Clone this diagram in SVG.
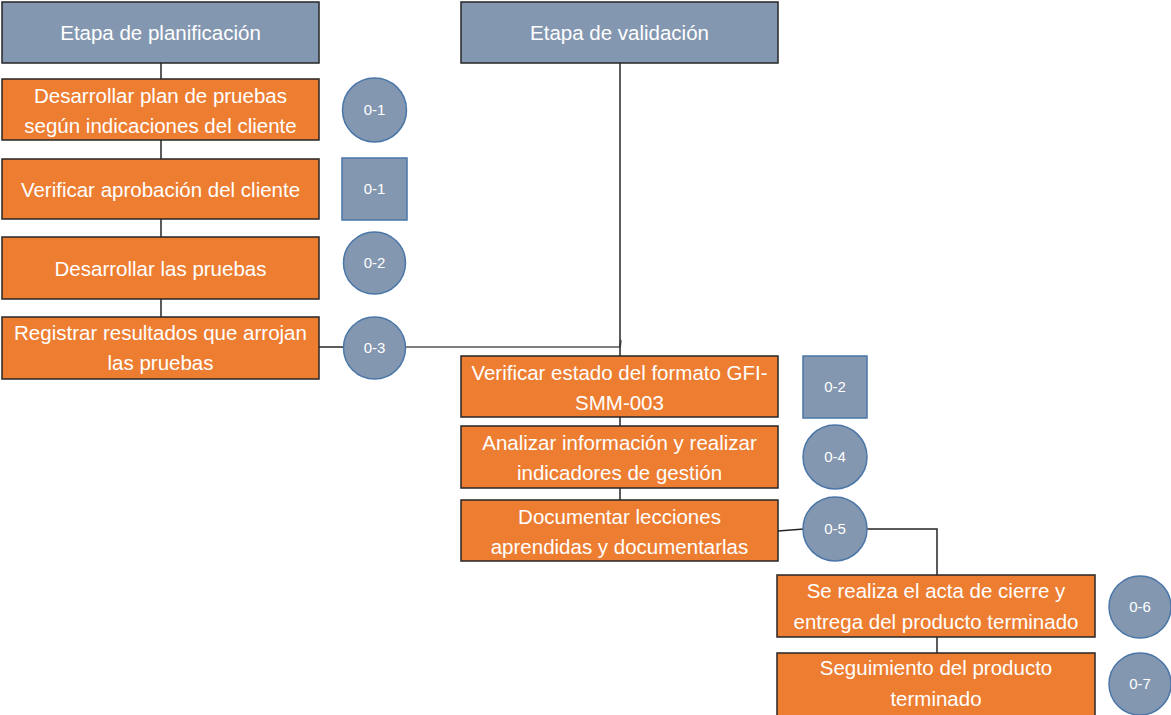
<svg xmlns="http://www.w3.org/2000/svg" width="1171" height="715" viewBox="0 0 1171 715">
  <style>
    .stage { fill: #8497B0; stroke: #262626; stroke-width: 1.5; }
    .task { fill: #ED7D31; stroke: #262626; stroke-width: 1.5; }
    .ref { fill: #8497B0; stroke: #4A76A8; stroke-width: 1.5; }
    .t { font-family: "Liberation Sans", Arial, sans-serif; font-size: 20.5px; fill: #ffffff; text-anchor: middle; }
    .s { font-family: "Liberation Sans", Arial, sans-serif; font-size: 15px; fill: #ffffff; text-anchor: middle; }
    .link { fill: none; stroke: #262626; stroke-width: 1.5; }
    .link-gray { fill: none; stroke: #7F7F7F; stroke-width: 2; }
  </style>
  <rect width="1171" height="715" fill="#ffffff"/>

  <g id="connectors">
    <line class="link" x1="161" y1="63" x2="161" y2="79"/>
    <line class="link" x1="161" y1="140" x2="161" y2="159"/>
    <line class="link" x1="161" y1="219" x2="161" y2="237"/>
    <line class="link" x1="161" y1="299" x2="161" y2="317"/>
    <line class="link" x1="319" y1="347" x2="343" y2="347"/>
    <polyline class="link-gray" points="406,347 620,347 621,340"/>
    <line class="link" x1="620" y1="63" x2="620" y2="356" stroke="#595959"/>
    <line class="link" x1="620" y1="417" x2="620" y2="426"/>
    <line class="link" x1="620" y1="488" x2="620" y2="500"/>
    <line class="link" x1="778" y1="531" x2="804" y2="529"/>
    <polyline class="link" points="866,529 937,529 937,575"/>
    <line class="link" x1="937" y1="637" x2="937" y2="653"/>
  </g>

  <g id="stage-planning">
    <rect class="stage" x="2" y="2" width="317" height="61"/>
    <text class="t" x="160.5" y="40">Etapa de planificación</text>
  </g>
  <g id="stage-validation">
    <rect class="stage" x="461" y="2" width="317" height="61"/>
    <text class="t" x="619.5" y="40">Etapa de validación</text>
  </g>

  <g id="task-plan">
    <rect class="task" x="2" y="79" width="317" height="61"/>
    <text class="t" x="160.5" y="103">Desarrollar plan de pruebas</text>
    <text class="t" x="160.5" y="133">según indicaciones del cliente</text>
  </g>
  <g id="ref-plan">
    <circle class="ref" cx="374.5" cy="110" r="32"/>
    <text class="s" x="374.5" y="115">0-1</text>
  </g>

  <g id="task-approval">
    <rect class="task" x="2" y="159" width="317" height="60"/>
    <text class="t" x="160.5" y="197">Verificar aprobación del cliente</text>
  </g>
  <g id="ref-approval">
    <rect class="ref" x="342" y="158" width="65" height="62"/>
    <text class="s" x="374.5" y="194">0-1</text>
  </g>

  <g id="task-tests">
    <rect class="task" x="2" y="237" width="317" height="62"/>
    <text class="t" x="160.5" y="276">Desarrollar las pruebas</text>
  </g>
  <g id="ref-tests">
    <circle class="ref" cx="374.5" cy="263" r="31"/>
    <text class="s" x="374.5" y="268">0-2</text>
  </g>

  <g id="task-results">
    <rect class="task" x="2" y="317" width="317" height="62"/>
    <text class="t" x="160.5" y="340">Registrar resultados que arrojan</text>
    <text class="t" x="160.5" y="370">las pruebas</text>
  </g>
  <g id="ref-results">
    <circle class="ref" cx="374.5" cy="348" r="31"/>
    <text class="s" x="374.5" y="353">0-3</text>
  </g>

  <g id="task-format">
    <rect class="task" x="461" y="356" width="317" height="61"/>
    <text class="t" x="619.5" y="380">Verificar estado del formato GFI-</text>
    <text class="t" x="619.5" y="410">SMM-003</text>
  </g>
  <g id="ref-format">
    <rect class="ref" x="803" y="356" width="64" height="62"/>
    <text class="s" x="835" y="392">0-2</text>
  </g>

  <g id="task-indicators">
    <rect class="task" x="461" y="426" width="317" height="62"/>
    <text class="t" x="619.5" y="450">Analizar información y realizar</text>
    <text class="t" x="619.5" y="480">indicadores de gestión</text>
  </g>
  <g id="ref-indicators">
    <circle class="ref" cx="835" cy="457" r="32"/>
    <text class="s" x="835" y="462">0-4</text>
  </g>

  <g id="task-lessons">
    <rect class="task" x="461" y="500" width="317" height="61"/>
    <text class="t" x="619.5" y="524">Documentar lecciones</text>
    <text class="t" x="619.5" y="554">aprendidas y documentarlas</text>
  </g>
  <g id="ref-lessons">
    <circle class="ref" cx="835" cy="529" r="32"/>
    <text class="s" x="835" y="534">0-5</text>
  </g>

  <g id="task-closure">
    <rect class="task" x="777" y="575" width="318" height="62"/>
    <text class="t" x="936" y="598">Se realiza el acta de cierre y</text>
    <text class="t" x="936" y="629">entrega del producto terminado</text>
  </g>
  <g id="ref-closure">
    <circle class="ref" cx="1140" cy="607" r="31"/>
    <text class="s" x="1140" y="612">0-6</text>
  </g>

  <g id="task-followup">
    <rect class="task" x="777" y="653" width="318" height="64"/>
    <text class="t" x="936" y="675">Seguimiento del producto</text>
    <text class="t" x="936" y="706">terminado</text>
  </g>
  <g id="ref-followup">
    <circle class="ref" cx="1140" cy="684" r="31"/>
    <text class="s" x="1140" y="689">0-7</text>
  </g>
</svg>
